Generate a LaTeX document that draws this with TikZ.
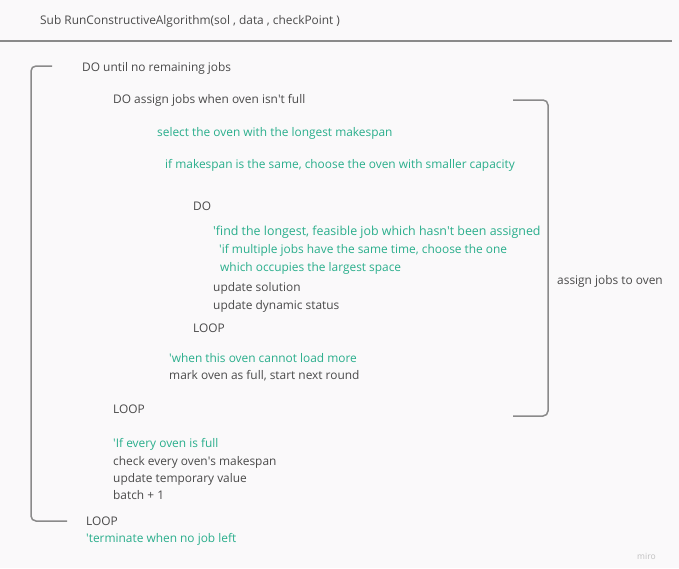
\documentclass[tikz,border=0pt]{standalone}
\usepackage{fontspec}
\setmainfont{Open Sans}
\newcommand\ap{\textquotesingle}
\definecolor{bg}{HTML}{FAF9FA}
\definecolor{ink}{HTML}{4A4A4A}
\definecolor{note}{HTML}{2AAE8C}
\definecolor{rule}{HTML}{8A8A8A}
\begin{document}
\begin{tikzpicture}[x=1pt,y=-1pt,
  code/.style={anchor=base west,inner sep=0pt,font=\fontsize{11.9}{14}\selectfont,text=ink},
  comment/.style={code,text=note},
  bigcomment/.style={comment,font=\fontsize{12.4}{15}\selectfont},
  bracketline/.style={draw=rule,line width=1.5pt,rounded corners=5pt},
  wordmark/.style={anchor=base west,inner sep=0pt,font=\fontsize{8.5}{10}\selectfont,text=black!25}]
\fill[bg] (0,0) rectangle (679,568);
\useasboundingbox (0,0) rectangle (679,568);

% header
\node[code] (title) at (40,24) {Sub RunConstructiveAlgorithm(sol , data , checkPoint )};
\draw[rule,line width=1.5pt] (0,41) -- (672,41);

% outer loop
\node[code] (outerdo) at (82,71) {DO until no remaining jobs};
\node[code] (innerdo) at (113,103) {DO assign jobs when oven isn\ap t full};
\node[comment] (sel) at (157,136) {select the oven with the longest makespan};
\node[comment] (tie) at (165,168) {if makespan is the same, choose the oven with smaller capacity};
\node[code] (jobdo) at (193,210) {DO};
\node[bigcomment] (find) at (213,235) {\ap find the longest, feasible job which hasn\ap t been assigned};
\node[comment] (multi) at (219,253) {\ap if multiple jobs have the same time, choose the one};
\node[comment] (space) at (220,271) {which occupies the largest space};
\node[code] (updsol) at (213,291) {update solution};
\node[code] (upddyn) at (213,309) {update dynamic status};
\node[code] (jobloop) at (193,332) {LOOP};
\node[comment] (cannot) at (169,362) {\ap when this oven cannot load more};
\node[code] (mark) at (169,379) {mark oven as full, start next round};
\node[code] (innerloop) at (113,413) {LOOP};
\node[comment] (full) at (113,447) {\ap If every oven is full};
\node[code] (check) at (113,465) {check every oven\ap s makespan};
\node[code] (temp) at (113,482) {update temporary value};
\node[code] (batch) at (113,499) {batch + 1};
\node[code] (outerloop) at (86,525) {LOOP};
\node[comment] (term) at (86,542) {\ap terminate when no job left};

% brackets
\coordinate (ltop) at (52,66);
\coordinate (lbot) at (67,521);
\draw[bracketline] (ltop) -- (31,66) -- (31,521) -- (lbot);
\coordinate (rtop) at (513,100);
\coordinate (rbot) at (513,416);
\draw[bracketline] (rtop) -- (548,100) -- (548,416) -- (rbot);
\node[code] (assign) at (557,284) {assign jobs to oven};

\node[wordmark] (miro) at (637,559) {miro};
\end{tikzpicture}
\end{document}
